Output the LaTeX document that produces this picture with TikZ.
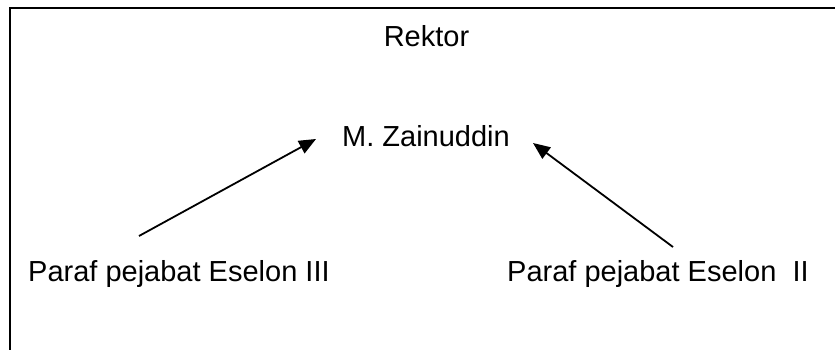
\documentclass[tikz,border=0pt]{standalone}
\usepackage{fontspec}
\setmainfont{Liberation Sans}
\usetikzlibrary{arrows.meta}
\begin{document}
\begin{tikzpicture}[x=1pt,y=-1pt,
  label text/.style={inner sep=0pt,font=\fontsize{29}{34}\selectfont},
  frame line/.style={line width=2.2pt,black},
  sign arrow/.style={line width=1.8pt,-{Triangle[length=17pt,width=14pt]}}]
  \useasboundingbox (0,0) rectangle (835,350);
  % open frame: top and left edges only
  \draw[frame line] (10,350) -- (10,8.3) -- (836,8.3);
  % labels
  \node[label text,anchor=base] (rektor) at (426.5,46.7) {Rektor};
  \node[label text,anchor=base] (nama) at (426,146.7) {M. Zainuddin};
  \node[label text,anchor=base west] (eselon3) at (28,281) {Paraf pejabat Eselon III};
  \node[label text,anchor=base west] (eselon2) at (507,281) {Paraf pejabat Eselon\ \ II};
  % arrow end points
  \coordinate (a3) at (139,236);
  \coordinate (b3) at (316,139);
  \coordinate (a2) at (673,247);
  \coordinate (b2) at (533,143);
  \draw[sign arrow] (a3) -- (b3);
  \draw[sign arrow] (a2) -- (b2);
\end{tikzpicture}
\end{document}
